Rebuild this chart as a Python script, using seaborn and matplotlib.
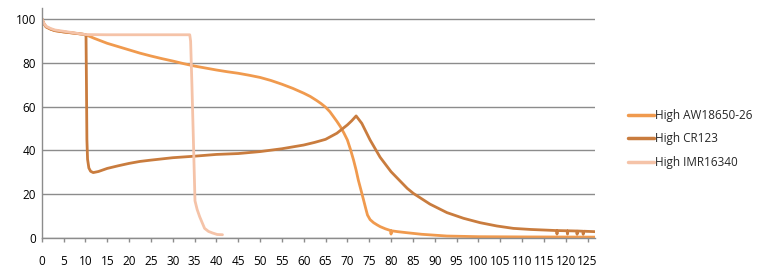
import matplotlib
matplotlib.use("Agg")
import matplotlib.pyplot as plt
import seaborn as sns
import pandas as pd

# ---- data ----
aw_x = [0, 0.5, 1, 2, 3, 5, 8, 10, 12, 15, 17.5, 20, 22.5, 25, 27.5, 30, 32.5, 35, 37.5, 40, 42.5,
        45, 47.5, 50, 52.5, 55, 57.5, 60, 61.5, 63, 64, 65, 66, 66.8, 67.6, 68.4, 69.2, 70, 70.7,
        71.4, 72, 72.5, 73.1, 73.7, 74.2, 74.6, 75.2, 76, 76.8, 77.5, 78.7, 79.9, 80, 80.1, 81.5,
        83.7, 87, 92.8, 100, 110, 120, 127]
aw_y = [100.4, 98, 96.5, 95.5, 94.8, 94.2, 93.5, 93, 91.3, 89, 87.5, 86, 84.5, 83.2, 82, 80.9,
        79.7, 78.6, 77.7, 76.8, 76, 75.3, 74.4, 73.4, 72.0, 70.3, 68.4, 66.2, 64.7, 62.8, 61.4,
        59.8, 57.7, 55.5, 53.3, 50.9, 48.0, 44.8, 40.5, 35.7, 31.0, 26.5, 22.0, 17.4, 13.5, 10.5,
        8.4, 7.0, 6.0, 5.2, 4.2, 3.4, 1.8, 3.3, 2.9, 2.4, 1.7, 0.9, 0.6, 0.5, 0.45, 0.4]

cr_x = [0, 0.5, 1, 2, 3, 5, 8, 10, 10.15, 10.25, 10.35, 10.5, 10.8, 11.2, 11.8, 13, 15, 17.5, 20,
        22.5, 25, 30, 35, 40, 45, 50, 55, 60, 62.5, 65, 67.6, 70, 71, 72, 73.3, 75.2, 77.5, 80,
        83.7, 85.1, 88.9, 92.8, 96.6, 100.4, 104.2, 108, 112, 115.6, 117.9, 118, 118.1, 120.3,
        120.4, 120.5, 122.5, 122.6, 122.7, 123.9, 124, 124.1, 126.7]
cr_y = [100.4, 98, 96.5, 95.5, 94.8, 94.2, 93.5, 93, 92, 70, 45, 36, 32, 30.5, 29.9, 30.4, 31.8,
        33, 34.1, 35, 35.6, 36.7, 37.4, 38.2, 38.6, 39.5, 40.8, 42.5, 43.7, 45.1, 47.9, 51.7, 53.6,
        55.8, 52.4, 44.8, 36.9, 30.3, 22.7, 20.4, 15.5, 11.6, 9, 7, 5.5, 4.4, 3.9, 3.6, 3.4, 1.8,
        3.4, 3.3, 1.8, 3.3, 3.2, 1.7, 3.2, 3.1, 1.7, 3.1, 2.9]

imr_x = [0, 0.5, 1, 2, 3, 5, 8, 10, 15, 20, 25, 30, 33.9, 34.1, 34.4, 34.8, 35.1, 35.6, 36.2,
         37.3, 38.2, 39.1, 40.2, 41.4]
imr_y = [100.4, 98.2, 96.8, 95.8, 95.1, 94.5, 93.6, 93, 92.9, 92.9, 92.9, 92.9, 92.9, 90, 70, 40,
         17, 13, 9.6, 4.4, 3, 2.3, 1.6, 1.5]

series_names = ["High AW18650-26", "High CR123", "High IMR16340"]
colors = ["#F09A4E", "#C97C3E", "#F5C3A8"]
x_ticks = list(range(0, 126, 5))
y_ticks = [0, 20, 40, 60, 80, 100]

df = pd.concat([
    pd.DataFrame({"x": aw_x, "y": aw_y, "s": series_names[0]}),
    pd.DataFrame({"x": cr_x, "y": cr_y, "s": series_names[1]}),
    pd.DataFrame({"x": imr_x, "y": imr_y, "s": series_names[2]}),
], ignore_index=True)

sns.set_theme(style="white")
plt.rcParams["font.family"] = ["Open Sans", "DejaVu Sans"]

fig = plt.figure(figsize=(7.61, 2.73), dpi=100)
ax = fig.add_axes([41.7 / 761, 1 - 238 / 273, (595 - 41.7) / 761, (238 - 8.3) / 273])

sns.lineplot(data=df, x="x", y="y", hue="s", palette=dict(zip(series_names, colors)),
             estimator=None, sort=False, linewidth=2.0, ax=ax, legend=False)
for ln in ax.get_lines():
    ln.set_solid_joinstyle("round")
    ln.set_solid_capstyle("round")

ax.set_xlim(0, 126.7)
ax.set_ylim(0, 105)
ax.set_xticks(x_ticks)
ax.set_yticks(y_ticks)
ax.set_xlabel("")
ax.set_ylabel("")
ax.yaxis.grid(True, color="#8C8C8C", linewidth=1.0)
ax.set_axisbelow(True)
for side in ["top", "right"]:
    ax.spines[side].set_visible(False)
for side in ["left", "bottom"]:
    ax.spines[side].set_color("#8C8C8C")
    ax.spines[side].set_linewidth(1.0)
ax.tick_params(axis="x", direction="out", length=3, width=1, color="#8C8C8C",
               pad=9, labelsize=8.5, labelcolor="black")
ax.tick_params(axis="y", length=0, pad=4, labelsize=8.5, labelcolor="black")
ax.xaxis.set_ticks_position("bottom")

handles = [plt.Line2D([], [], color=c, linewidth=2.5) for c in colors]
fig.legend(handles, series_names, loc="upper left", bbox_to_anchor=(623 / 761, 1 - 104 / 273),
           frameon=False, fontsize=8.5, handlelength=2.2, handletextpad=0.1,
           labelspacing=0.9, borderaxespad=0)

fig.savefig("out.png", dpi=100)
